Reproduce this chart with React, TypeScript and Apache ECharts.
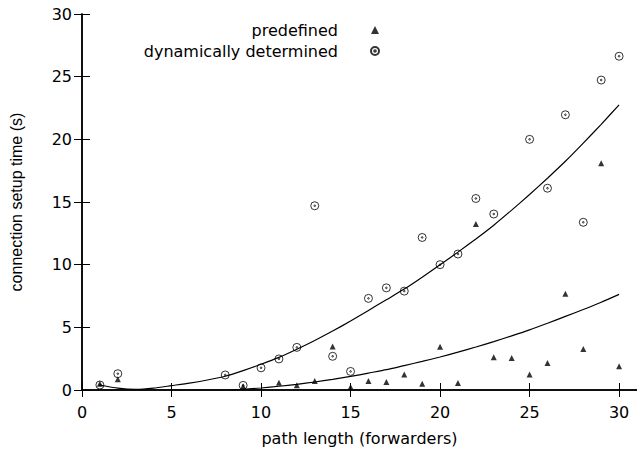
import React, { useEffect, useRef } from "react";
import * as echarts from "echarts";

// predefined (triangles)
const predefinedX = [1, 2, 9, 11, 12, 13, 14, 15, 16, 17, 18, 19, 20, 21, 22, 23, 24, 25, 26, 27, 28, 29, 30];
const predefinedY = [0.5, 0.85, 0.3, 0.58, 0.37, 0.71, 3.48, 0.24, 0.71, 0.63, 1.24, 0.5, 3.46, 0.55, 13.25, 2.61, 2.56, 1.24, 2.16, 7.68, 3.27, 18.1, 1.9];

// dynamically determined (circles)
const dynamicX = [1, 2, 8, 9, 10, 11, 12, 13, 14, 15, 16, 17, 18, 19, 20, 21, 22, 23, 25, 26, 27, 28, 29, 30];
const dynamicY = [0.4, 1.3, 1.2, 0.37, 1.77, 2.48, 3.4, 14.7, 2.69, 1.48, 7.31, 8.15, 7.89, 12.17, 10.0, 10.85, 15.28, 14.04, 20.0, 16.1, 21.96, 13.38, 24.73, 26.63];

// fitted curves
const upperFitX = [1, 2, 3, 4, 5, 6, 7, 8, 9, 10, 11, 12, 13, 14, 15, 16, 17, 18, 19, 20, 21, 22, 23, 24, 25, 26, 27, 28, 29, 30];
const upperFitY = [0.4, 0.15, 0.05, 0.15, 0.35, 0.55, 0.8, 1.1, 1.55, 2.05, 2.6, 3.25, 3.95, 4.7, 5.5, 6.35, 7.2, 8.05, 9.0, 10.0, 11.0, 12.05, 13.15, 14.35, 15.6, 16.9, 18.25, 19.7, 21.2, 22.75];
const lowerFitX = [8.3, 9, 10, 11, 12, 13, 14, 15, 16, 17, 18, 19, 20, 21, 22, 23, 24, 25, 26, 27, 28, 29, 30];
const lowerFitY = [0, 0.06, 0.16, 0.3, 0.45, 0.64, 0.85, 1.08, 1.35, 1.62, 1.95, 2.28, 2.63, 3.02, 3.43, 3.86, 4.32, 4.8, 5.33, 5.87, 6.42, 7.0, 7.63];

const xTicks = [0, 5, 10, 15, 20, 25, 30];
const yTicks = [0, 5, 10, 15, 20, 25, 30];

const FONT = "DejaVu Sans";
const circleSymbol =
  "path://M8,0A8,8,0,1,1,-8,0A8,8,0,1,1,8,0ZM1.6,0A1.6,1.6,0,1,1,-1.6,0A1.6,1.6,0,1,1,1.6,0Z";

const zip = (xs: number[], ys: number[]) => xs.map((x, i) => [x, ys[i]]);

export default function App() {
  const ref = useRef<HTMLDivElement>(null);
  useEffect(() => {
    if (!ref.current) return;
    const chart = echarts.init(ref.current, null, { renderer: "svg" });
    const axisCommon = {
      type: "value" as const,
      splitLine: { show: false },
    };
    chart.setOption({
      animation: false,
      backgroundColor: "#fff",
      grid: { left: 81, top: 14, width: 557, height: 379 },
      legend: {
        orient: "vertical",
        align: "right",
        right: 252,
        top: 17,
        itemWidth: 8,
        itemHeight: 8,
        itemGap: 5,
        selectedMode: false,
        textStyle: { fontFamily: FONT, fontSize: 16, color: "#000", padding: [0, 28, 0, 0] },
        data: [
          { name: "predefined", icon: "triangle" },
          { name: "dynamically determined", icon: circleSymbol },
        ],
      },
      xAxis: [
        {
          ...axisCommon,
          min: 0,
          max: 31,
          interval: 5,
          position: "bottom",
          name: "path length (forwarders)",
          nameLocation: "middle",
          nameGap: 40,
          nameTextStyle: { fontFamily: FONT, fontSize: 16, color: "#000" },
          axisLine: { lineStyle: { color: "#000", width: 1.5 } },
          axisTick: { inside: true, length: 7, lineStyle: { color: "#000", width: 1 } },
          axisLabel: {
            showMaxLabel: false,
            margin: 14,
            fontFamily: FONT,
            fontSize: 16,
            color: "#000",
            formatter: (v: number) => (xTicks.includes(v) ? String(v) : ""),
          },
        },
        {
          ...axisCommon,
          min: 0,
          max: 31,
          interval: 5,
          position: "top",
          axisLine: { lineStyle: { color: "#000", width: 1.5 } },
          axisTick: { inside: true, length: 7, lineStyle: { color: "#000", width: 1 } },
          axisLabel: { show: false },
        },
      ],
      yAxis: [
        {
          ...axisCommon,
          min: 0,
          max: 30,
          interval: 5,
          position: "left",
          name: "connection setup time (s)",
          nameLocation: "middle",
          nameGap: 58,
          nameTextStyle: { fontFamily: "Liberation Sans", fontSize: 16, color: "#000" },
          axisLine: { lineStyle: { color: "#000", width: 1.5 } },
          axisTick: { inside: true, length: 8, lineStyle: { color: "#000", width: 1 } },
          axisLabel: {
            margin: 10,
            fontFamily: FONT,
            fontSize: 16,
            color: "#000",
            formatter: (v: number) => (yTicks.includes(v) ? String(v) : ""),
          },
        },
        {
          ...axisCommon,
          min: 0,
          max: 30,
          interval: 5,
          position: "right",
          axisLine: { lineStyle: { color: "#000", width: 1.5 } },
          axisTick: { inside: true, length: 8, lineStyle: { color: "#000", width: 1 } },
          axisLabel: { show: false },
        },
      ],
      series: [
        {
          name: "predefined",
          type: "scatter",
          symbol: "triangle",
          symbolSize: [6, 6],
          itemStyle: { color: "#000" },
          data: zip(predefinedX, predefinedY),
          z: 3,
        },
        {
          name: "dynamically determined",
          type: "scatter",
          symbol: circleSymbol,
          symbolSize: 8,
          itemStyle: { color: "transparent", borderColor: "#000", borderWidth: 1 },
          data: zip(dynamicX, dynamicY),
          z: 3,
        },
        {
          name: "fit dynamic",
          type: "line",
          smooth: 0.2,
          showSymbol: false,
          symbol: "none",
          lineStyle: { color: "#000", width: 1.2 },
          data: zip(upperFitX, upperFitY),
          z: 2,
        },
        {
          name: "fit predefined",
          type: "line",
          smooth: 0.2,
          showSymbol: false,
          symbol: "none",
          lineStyle: { color: "#000", width: 1.2 },
          data: zip(lowerFitX, lowerFitY),
          z: 2,
        },
      ],
    });
    return () => chart.dispose();
  }, []);
  return <div ref={ref} style={{ width: 637, height: 451, position: "fixed", left: 0, top: 0 }} />;
}
